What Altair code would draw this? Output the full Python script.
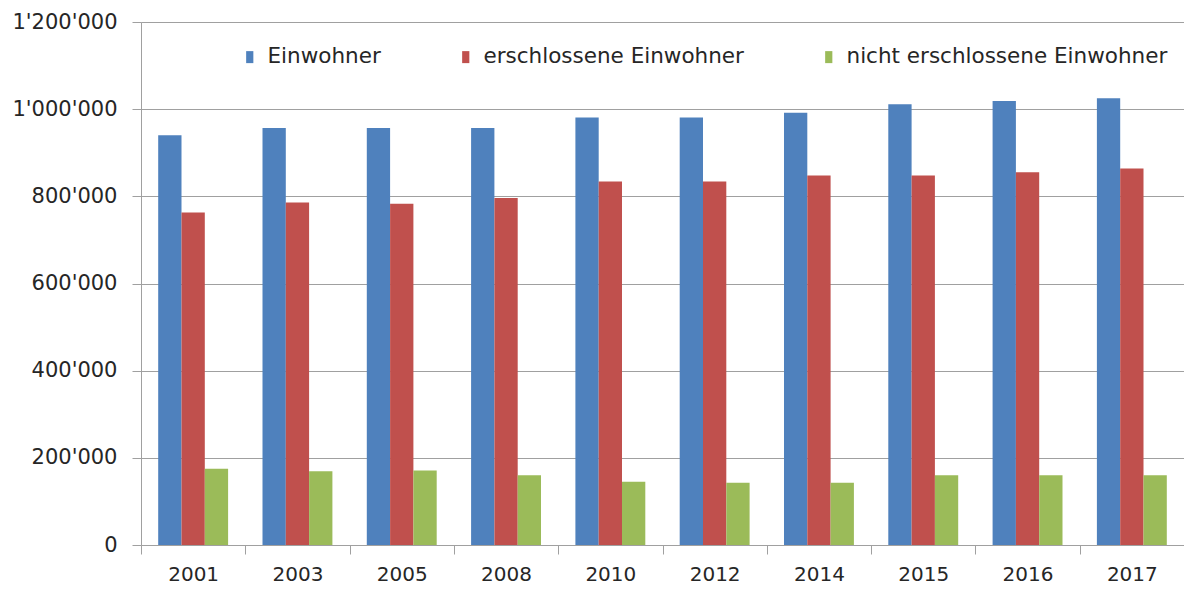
import altair as alt
import pandas as pd

years = ["2001", "2003", "2005", "2008", "2010", "2012", "2014", "2015", "2016", "2017"]
einwohner = [940000, 957000, 957000, 957000, 981000, 981000, 992000, 1011000, 1019000, 1025000]
erschlossen = [763000, 786000, 783000, 796000, 834000, 834000, 848000, 848000, 855000, 864000]
nicht_erschlossen = [175000, 169000, 171000, 160000, 145000, 143000, 143000, 160000, 160000, 160000]
series = ["Einwohner", "erschlossene Einwohner", "nicht erschlossene Einwohner"]
colors = ["#4F81BD", "#C0504D", "#9BBB59"]
y_ticks = [0, 200000, 400000, 600000, 800000, 1000000, 1200000]

rows = []
for i, yr in enumerate(years):
    for s, vals in zip(series, [einwohner, erschlossen, nicht_erschlossen]):
        rows.append({"Jahr": yr, "Serie": s, "Wert": vals[i]})
df = pd.DataFrame(rows)

font = "DejaVu Sans"
txt = "#262626"
grey = "#a0a0a0"

chart = alt.Chart(df).mark_bar().encode(
    x=alt.X(
        "Jahr:N", sort=years,
        scale=alt.Scale(paddingInner=0, paddingOuter=0),
        axis=alt.Axis(
            title="", labelAngle=0, tickBand="extent", tickSize=9,
            domainColor=grey, tickColor=grey, labelFont=font, labelFontSize=20,
            labelColor=txt, labelPadding=10, grid=False,
        ),
    ),
    xOffset=alt.XOffset(
        "Serie:N", sort=series,
        scale=alt.Scale(paddingInner=0, paddingOuter=0.738),
    ),
    y=alt.Y(
        "Wert:Q",
        scale=alt.Scale(domain=[0, 1200000], nice=False),
        axis=alt.Axis(
            title="", values=y_ticks,
            labelExpr="replace(replace(format(datum.value, ','), ',', \"'\"), ',', \"'\")",
            tickSize=9, tickColor=grey, domainColor=grey, gridColor=grey, gridWidth=1,
            labelFont=font, labelFontSize=21, labelColor=txt, labelPadding=15,
        ),
    ),
    color=alt.Color(
        "Serie:N", sort=series,
        scale=alt.Scale(domain=series, range=colors),
        legend=alt.Legend(
            title=None, orient="none", legendX=98, legendY=24, direction="horizontal",
            columns=3, columnPadding=74, symbolType="M-0.6,-1H0.6V1H-0.6Z",
            symbolSize=144, symbolStrokeWidth=0, symbolOpacity=1,
            labelFont=font, labelFontSize=21.5, labelColor=txt, labelOffset=7,
            labelLimit=400,
        ),
    ),
).properties(
    width=1043, height=523,
    padding={"left": 133, "top": 14, "right": 0, "bottom": 39},
    autosize="none",
).configure_view(stroke=None).configure(background="white")

chart.save("out.html", embed_options={"renderer": "svg", "actions": False})
